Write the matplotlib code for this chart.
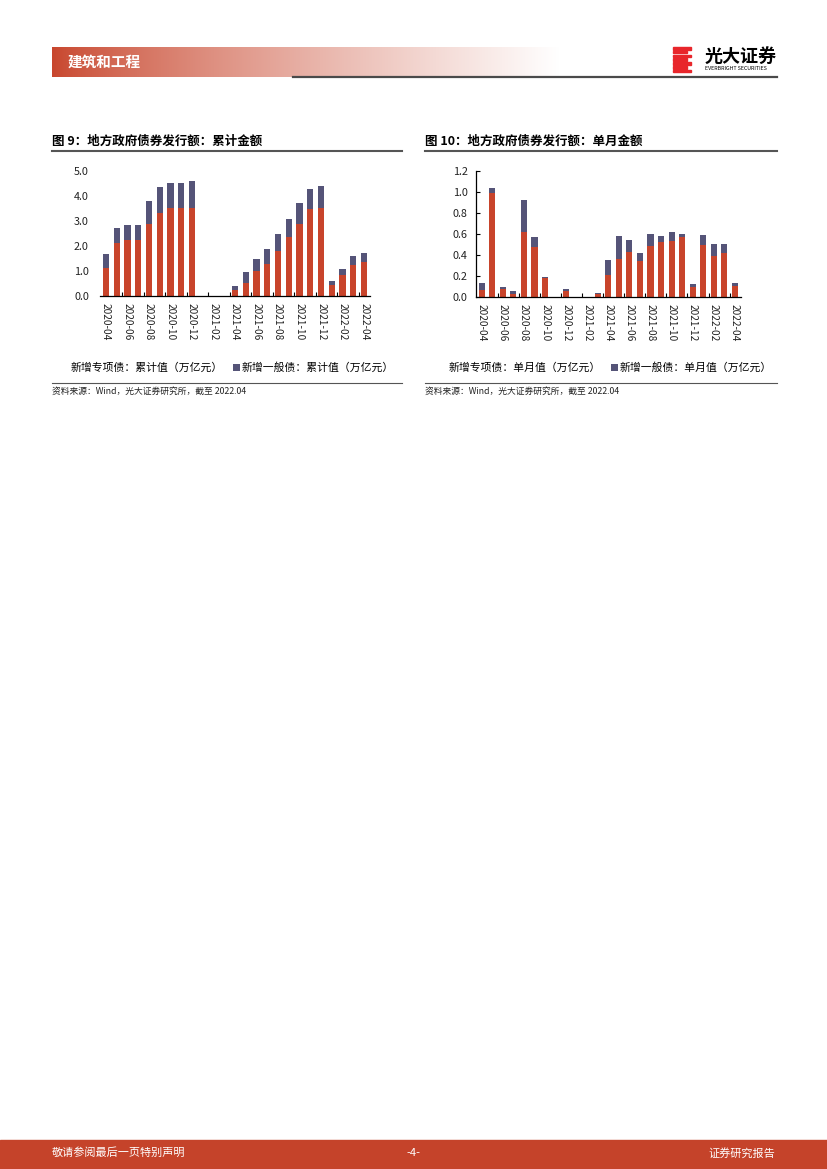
import numpy as np
import matplotlib
matplotlib.use('Agg')
import matplotlib.pyplot as plt
from matplotlib.patches import Rectangle, Patch
from matplotlib.lines import Line2D

plt.rcParams['font.family'] = ['Noto Sans CJK SC', 'DejaVu Sans']

# 月份（2020-04 至 2022-04）
months = ['2020-04', '2020-05', '2020-06', '2020-07', '2020-08', '2020-09', '2020-10',
          '2020-11', '2020-12', '2021-01', '2021-02', '2021-03', '2021-04', '2021-05',
          '2021-06', '2021-07', '2021-08', '2021-09', '2021-10', '2021-11', '2021-12',
          '2022-01', '2022-02', '2022-03', '2022-04']

# 图9：累计值（万亿元）
cum_special = [1.12, 2.12, 2.23, 2.25, 2.87, 3.32, 3.52, 3.52, 3.53, 0, 0, 0, 0.23, 0.52,
               0.99, 1.29, 1.80, 2.36, 2.87, 3.49, 3.53, 0.45, 0.83, 1.23, 1.36]
cum_general = [0.55, 0.59, 0.60, 0.58, 0.92, 1.03, 1.00, 1.00, 1.06, 0, 0, 0, 0.17, 0.43,
               0.48, 0.59, 0.69, 0.71, 0.84, 0.78, 0.86, 0.14, 0.24, 0.36, 0.35]

# 图10：单月值（万亿元）
mon_special = [0.06, 0.99, 0.07, 0.03, 0.62, 0.47, 0.18, 0, 0.055, 0, 0, 0.03, 0.21, 0.36,
               0.43, 0.34, 0.48, 0.52, 0.53, 0.57, 0.09, 0.49, 0.39, 0.42, 0.10]
mon_general = [0.07, 0.05, 0.02, 0.02, 0.30, 0.10, 0.01, 0, 0.02, 0, 0, 0.01, 0.14, 0.22,
               0.11, 0.08, 0.12, 0.06, 0.09, 0.03, 0.03, 0.10, 0.11, 0.08, 0.03]

RED = '#C8442B'
PURPLE = '#555478'
W, H = 827, 1169

fig = plt.figure(figsize=(W / 100, H / 100), dpi=100)


def fx(x):
    return x / W


def fy(y):
    return 1 - y / H


def hline(x0, x1, y, color, lw):
    fig.add_artist(Line2D([fx(x0), fx(x1)], [fy(y), fy(y)], color=color, lw=lw,
                          transform=fig.transFigure))


# 页眉渐变条
ax_band = fig.add_axes([fx(52), fy(77), fx(560 - 52), (77 - 47) / H])
grad = np.linspace(0, 1, 256) ** 0.8
c0 = np.array([200, 70, 45]) / 255
img = c0[None, :] * (1 - grad[:, None]) + grad[:, None]
ax_band.imshow(img[None, :, :], aspect='auto', extent=[0, 1, 0, 1])
ax_band.axis('off')
fig.text(fx(68), fy(62), '建筑和工程', color='white', fontsize=10.5, fontweight='bold',
         va='center')
hline(293, 777, 77, '#4a4a4a', 1.6)

# 标志
for i in range(7):
    fig.add_artist(Rectangle((fx(673), fy(47 + i * 3.8 + 2.6)), fx(18 - (i % 2) * 4), 2.6 / H,
                             color='#E8262B', transform=fig.transFigure))
fig.text(fx(705), fy(56), '光大证券', fontsize=13, fontweight='bold', va='center')
fig.text(fx(705), fy(69), 'EVERBRIGHT SECURITIES', fontsize=3.8, va='center')

# 页脚
fig.add_artist(Rectangle((0, 0), 1, (1169 - 1140) / H, color='#C5432A',
                         transform=fig.transFigure))
fig.text(fx(52), fy(1153), '敬请参阅最后一页特别声明', color='white', fontsize=8, va='center')
fig.text(fx(413), fy(1153), '-4-', color='white', fontsize=8, va='center', ha='center')
fig.text(fx(775), fy(1153), '证券研究报告', color='white', fontsize=8, va='center', ha='right')


def draw_chart(rect, special, general, ymax, ystep, left_spine, title, tx, tline, legend_labels,
               leg_x):
    ax = fig.add_axes(rect)
    x = np.arange(len(months))
    ax.bar(x, special, width=0.58, color=RED)
    ax.bar(x, general, width=0.58, bottom=special, color=PURPLE)
    ax.set_xlim(-0.55, len(months) - 0.45)
    ax.set_ylim(0, ymax)
    ax.set_yticks(np.arange(0, ymax + 1e-9, ystep))
    ax.set_yticklabels([f'{v:.1f}' for v in np.arange(0, ymax + 1e-9, ystep)], fontsize=7.8,
                       color='#222222')
    ax.set_xticks(x[::2])
    ax.set_xticklabels(months[::2], rotation=270, fontsize=7.3, color='#222222')
    ax.set_xticks(np.arange(1.5, len(months) - 1, 2), minor=True)
    ax.tick_params(axis='x', which='major', length=0, pad=5)
    ax.tick_params(axis='x', which='minor', direction='in', length=3, width=0.8)
    for s in ['top', 'right']:
        ax.spines[s].set_visible(False)
    ax.spines['bottom'].set_linewidth(0.9)
    if left_spine:
        ax.spines['left'].set_linewidth(0.9)
        ax.tick_params(axis='y', direction='in', length=3, width=0.8, pad=6)
    else:
        ax.spines['left'].set_visible(False)
        ax.tick_params(axis='y', length=0, pad=8)

    handles = [Patch(facecolor='none', edgecolor='none'), Patch(facecolor=PURPLE)]
    fig.legend(handles, legend_labels, ncol=2, frameon=False, fontsize=7.8,
               loc='center left', bbox_to_anchor=(fx(leg_x), fy(368)),
               handlelength=0.6, handleheight=0.6, handletextpad=0.15, columnspacing=1.0,
               borderaxespad=0, borderpad=0)

    fig.text(fx(tx), fy(141), title, fontsize=9, fontweight='bold', va='center')
    hline(tx, tline, 151, '#555555', 1.5)
    hline(tx, tline, 383, '#555555', 0.8)
    fig.text(fx(tx), fy(391), '资料来源：Wind，光大证券研究所，截至 2022.04', fontsize=6.3,
             va='center', color='#222222')
    return ax


draw_chart([fx(100), fy(296), fx(370 - 100), (296 - 171) / H], cum_special, cum_general,
           5.0, 1.0, False, '图 9：地方政府债券发行额：累计金额', 52, 402,
           ['新增专项债：累计值（万亿元）', '新增一般债：累计值（万亿元）'], 62)

draw_chart([fx(476), fy(296.7), fx(740.7 - 476), (296.7 - 170.7) / H], mon_special, mon_general,
           1.2, 0.2, True, '图 10：地方政府债券发行额：单月金额', 425, 777,
           ['新增专项债：单月值（万亿元）', '新增一般债：单月值（万亿元）'], 440)

fig.savefig('out.png', dpi=100)
